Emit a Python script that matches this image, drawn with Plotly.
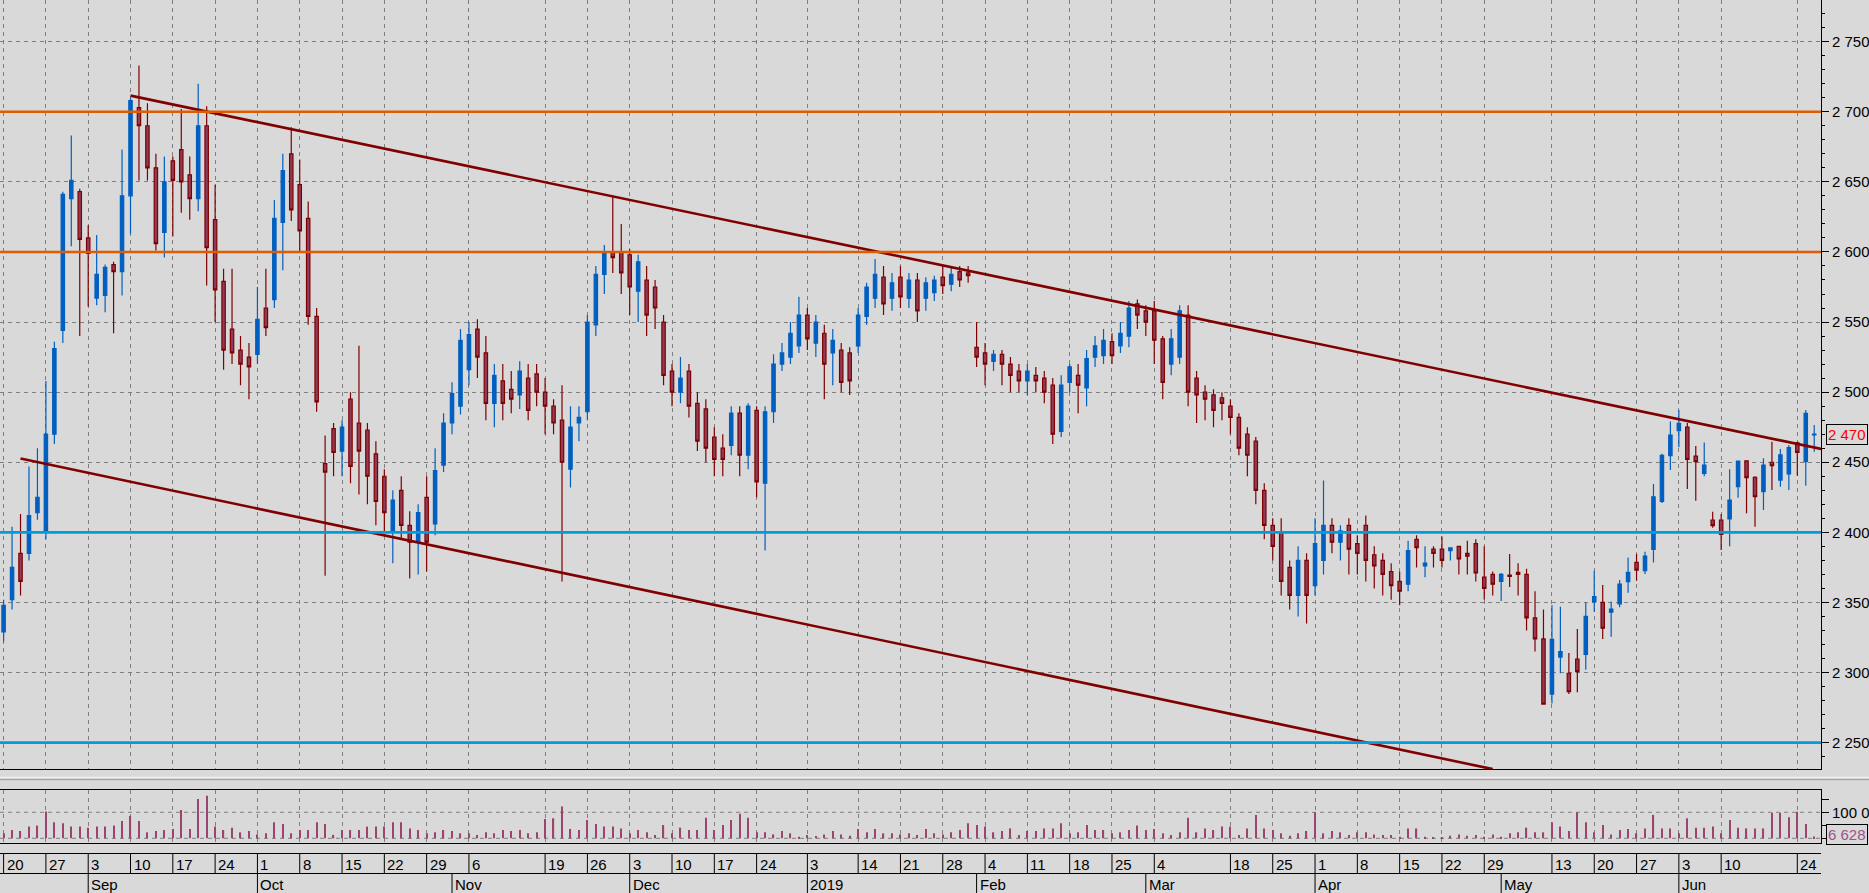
import plotly.graph_objects as go

# ---------------- DATA ----------------
opens = [2329,2352,2385,2385,2414,2401,2470,2544,2638,2643,2610,2567,2569,2591,2586,2640,2703,2690,2660,2614,
         2665,2673,2655,2638,2690,2623,2579,2545,2530,2525,2527,2560,2566,2621,2670,2648,2624,2554,2449,2474,
         2458,2495,2478,2473,2456,2440,2400,2430,2405,2393,2425,2406,2448,2478,2490,2516,2545,2528,2492,2508,
         2502,2498,2510,2513,2500,2490,2480,2445,2478,2486,2548,2584,2600,2600,2598,2572,2580,2575,2550,2515,
         2500,2515,2492,2488,2468,2460,2462,2485,2455,2487,2435,2486,2520,2525,2533,2555,2535,2542,2528,2530,
         2528,2533,2554,2567,2582,2567,2582,2567,2580,2567,2571,2582,2577,2586,2585,2532,2528,2522,2527,2520,
         2515,2508,2512,2510,2505,2472,2507,2512,2503,2525,2526,2536,2533,2540,2563,2558,2558,2538,2520,2525,
         2555,2510,2500,2498,2496,2490,2482,2470,2465,2430,2405,2400,2375,2355,2380,2362,2380,2405,2393,2405,
         2392,2405,2384,2380,2372,2365,2363,2395,2376,2388,2388,2387,2390,2385,2392,2368,2370,2365,2369.5,2371.5,
         2370,2339,2324,2284.5,2311,2299.5,2309.5,2313,2350.6,2350,2343,2349,2364.8,2378.6,2372.6,2387.9,2422,2454.7,2472.5,2475,
         2454.4,2442,2408.8,2408.8,2409.5,2432.6,2451,2439.3,2429,2450,2437.3,2441.6,2463.9,2450.4,2469.5]
highs = [2352,2404,2413,2447,2460,2508,2536,2643,2683,2645,2619,2612,2591,2593,2673,2710,2733,2706,2670,2668,
         2668,2702,2668,2720,2704,2648,2588,2588,2540,2535,2575,2588,2637,2670,2689,2666,2636,2560,2469,2478,
         2480,2500,2533,2478,2465,2445,2430,2440,2415,2420,2440,2460,2485,2507,2545,2550,2552,2540,2520,2520,
         2515,2522,2520,2520,2510,2495,2505,2490,2490,2555,2590,2605,2640,2620,2602,2598,2590,2580,2555,2520,
         2525,2520,2500,2495,2475,2470,2490,2490,2492,2490,2490,2527,2535,2550,2568,2560,2555,2548,2545,2535,
         2532,2560,2578,2595,2590,2585,2590,2585,2585,2582,2583,2590,2590,2590,2590,2550,2535,2530,2530,2525,
         2520,2520,2518,2515,2510,2512,2520,2520,2530,2540,2545,2542,2550,2565,2566,2562,2565,2540,2545,2562,
         2562,2515,2505,2502,2500,2495,2485,2475,2468,2435,2410,2410,2380,2390,2385,2410,2437,2410,2405,2410,
         2398,2412,2390,2385,2378,2372,2394,2398,2390,2390,2397,2389,2390,2394,2395,2390,2372,2371,2384.5,2378,
         2374,2358,2345,2348,2347,2314,2331,2350,2372.6,2362.5,2350.6,2366,2382,2384.5,2386.2,2434.5,2456,2479,2487.3,2478,
         2461.6,2464,2414.7,2413,2445,2451,2451,2440,2452.8,2464.7,2459.4,2462.3,2464.6,2487.3,2476.6]
lows = [2322,2345,2355,2380,2409,2395,2463,2535,2604,2540,2561,2562,2557,2542,2569,2613,2651,2651,2601,2596,
        2611,2628,2623,2629,2576,2550,2516,2520,2505,2495,2520,2540,2560,2587,2622,2600,2548,2486,2369,2440,
        2440,2435,2427,2420,2405,2400,2378,2395,2367,2370,2372,2398,2443,2470,2484,2505,2510,2480,2475,2480,
        2485,2488,2480,2490,2470,2470,2365,2432,2465,2480,2540,2570,2585,2570,2555,2550,2540,2545,2505,2490,
        2492,2482,2458,2450,2440,2440,2455,2440,2445,2425,2387,2478,2515,2520,2528,2530,2525,2495,2505,2500,
        2498,2528,2548,2560,2555,2558,2560,2560,2550,2558,2565,2570,2572,2575,2578,2518,2505,2515,2505,2500,
        2500,2498,2500,2492,2463,2468,2500,2485,2490,2518,2520,2520,2528,2532,2545,2540,2520,2495,2512,2520,
        2490,2478,2480,2475,2480,2470,2455,2440,2420,2395,2380,2355,2345,2340,2335,2355,2370,2385,2380,2370,
        2370,2365,2360,2355,2352,2348,2358,2375,2368,2375,2375,2380,2370,2370,2365,2352,2355,2351,2361,2355,
        2330,2315,2277,2278,2299.5,2284.7,2286,2302,2343.4,2324,2325.6,2346.5,2357,2365.5,2370.3,2378.4,2421,2444.5,2460.7,2431,
        2422.6,2440,2403.3,2387.4,2390,2424.7,2413.6,2404,2415.9,2430.2,2432.6,2430.2,2440.4,2433.3,2457.5]
closes = [2348,2375,2365,2412,2425,2470,2531,2641,2651,2609,2599,2584,2589,2586,2640,2708,2690,2660,2606,2650,
          2651,2650,2638,2690,2603,2573,2530,2528,2520,2518,2552,2546,2624,2658,2630,2615,2554,2493,2443,2457,
          2475,2447,2458,2440,2422,2414,2423,2405,2393,2414,2393,2444,2478,2499,2537,2541,2525,2492,2512,2492,
          2495,2515,2487,2500,2490,2478,2450,2475,2482,2550,2584,2600,2596,2585,2575,2593,2555,2560,2512,2500,
          2510,2490,2465,2460,2452,2452,2485,2455,2490,2436,2486,2520,2528,2542,2555,2538,2550,2520,2537,2507,
          2508,2555,2575,2584,2563,2578,2568,2580,2558,2578,2580,2576,2584,2580,2583,2525,2520,2527,2520,2512,
          2508,2515,2508,2500,2470,2505,2518,2505,2524,2533,2537,2526,2542,2560,2555,2550,2537,2507,2538,2558,
          2500,2498,2495,2487,2492,2482,2460,2455,2430,2405,2390,2365,2355,2380,2355,2392,2405,2393,2401,2388,
          2385,2380,2376,2370,2362,2358,2387,2389,2378,2385,2380,2389,2381,2383,2371,2360,2363,2370,2368.5,2370,
          2339,2324,2277.5,2323.7,2315,2286.3,2300.6,2340,2354.1,2331.6,2345.3,2363,2371.5,2373.1,2383.1,2425.4,2455,2469.4,2477.8,2452,
          2450.4,2448,2404.8,2398.6,2423,2450.9,2439,2425.4,2448,2447.5,2455.2,2460.4,2457,2484.9,2470]
volume_k = [19,32,28,45,49,103,62,58,45,45,41,45,45,49,67,86,67,23,28,32,
            36,109,36,151,164,45,32,41,23,28,15,19,62,55,19,32,32,62,55,13,
            32,32,32,45,45,45,62,62,38,32,19,23,32,28,19,19,13,23,19,32,
            28,32,19,23,74,77,122,36,32,70,55,45,45,38,19,32,23,13,51,19,
            41,32,32,79,32,51,70,94,79,23,23,15,28,19,6,13,9,15,28,15,
            10,36,23,36,19,19,15,19,13,36,19,15,23,32,58,51,45,23,28,38,
            13,28,28,38,38,58,19,23,51,32,32,19,23,32,49,32,36,19,13,23,
            79,23,38,32,45,45,13,38,90,38,32,19,10,19,28,100,19,28,23,13,
            23,23,15,13,13,6,38,38,6,3,3,10,15,10,13,6,15,6,19,23,
            41,23,23,62,45,28,100,62,23,51,15,32,36,19,38,90,38,38,19,77,
            41,41,45,19,70,41,38,38,38,98,98,81,102,55,6.628]

# tick labels (trading-day index -> label)
day_tick_idx = [0,5,10,15,20,25,30,35,40,45,50,55,64,69,74,79,84,89,95,101,106,111,116,121,126,131,
                136,145,150,155,160,165,170,175,183,188,193,198,203,212]
day_tick_text = ['20','27','3','10','17','24','1','8','15','22','29','6','19','26','3','10','17','24',
                 '3','14','21','28','4','11','18','25','4','18','25','1','8','15','22','29','13','20',
                 '27','3','10','24']
month_idx = [10,30,53,74,95,115,135,155,177,198]
month_text = ['Sep','Oct','Nov','Dec','2019','Feb','Mar','Apr','May','Jun']

# volume axis ticks (label is shown truncated at the window edge, as in the original)
vol_tickvals = [0, 50000, 100000, 150000]
vol_ticktext = ['', '', '100 0', '']

# drawn levels / trend lines
level_orange = [2700, 2600]
level_blue = [2400, 2250]
trend_upper_x = [15, 214.8]
trend_upper_y = [2711.5, 2459.5]
trend_lower_x = [2, 176]
trend_lower_y = [2452.6, 2231.1]
last_price = 2470
last_volume = 6628

# ---------------- STYLE ----------------
BG = '#d9d9d9'
GRID = '#7f7f7f'
UP = '#005fc0'
DOWN_LINE = '#7f0000'
DOWN_FILL = '#8f3c5a'
TREND = '#800000'
ORANGE = '#e05c00'
CYAN = '#009ddb'
VOLC = '#9c4470'
FONT = 'Liberation Sans'

W, H = 1869, 893
R = 48
PW = W - R

def py(px):
    return 1 - px / H

idx = list(range(len(opens)))
vol = [v * 1000 for v in volume_k]

fig = go.Figure()
fig.add_trace(go.Candlestick(
    x=idx, open=opens, high=highs, low=lows, close=closes,
    increasing=dict(line=dict(color=UP, width=1.2), fillcolor=UP),
    decreasing=dict(line=dict(color=DOWN_LINE, width=1.2), fillcolor=DOWN_FILL),
    whiskerwidth=0, xaxis='x', yaxis='y', hoverinfo='skip', showlegend=False))
fig.add_trace(go.Scatter(x=trend_upper_x, y=trend_upper_y, mode='lines',
                         line=dict(color=TREND, width=2.6), xaxis='x', yaxis='y',
                         hoverinfo='skip', showlegend=False))
fig.add_trace(go.Scatter(x=trend_lower_x, y=trend_lower_y, mode='lines',
                         line=dict(color=TREND, width=2.6), xaxis='x', yaxis='y',
                         hoverinfo='skip', showlegend=False))
fig.add_trace(go.Bar(x=idx, y=vol, width=0.14, marker=dict(color=VOLC, line=dict(width=0)),
                     xaxis='x2', yaxis='y2', hoverinfo='skip', showlegend=False))

shapes = []
for lv in level_orange:
    shapes.append(dict(type='line', xref='paper', x0=0, x1=1, yref='y', y0=lv, y1=lv,
                       line=dict(color=ORANGE, width=2.6), layer='above'))
for lv in level_blue:
    shapes.append(dict(type='line', xref='paper', x0=0, x1=1, yref='y', y0=lv, y1=lv,
                       line=dict(color=CYAN, width=2.6), layer='above'))
# volume grid lines
for v in [0, 100000]:
    shapes.append(dict(type='line', xref='paper', x0=0, x1=1, yref='y2', y0=v, y1=v,
                       line=dict(color=GRID, width=1, dash='4px,4px'), layer='below'))
# splitter between panels
shapes.append(dict(type='line', xref='paper', x0=0, x1=W / PW, yref='paper', y0=py(777.5), y1=py(777.5),
                   line=dict(color='#f4f4f4', width=1.5)))
shapes.append(dict(type='line', xref='paper', x0=0, x1=W / PW, yref='paper', y0=py(779.5), y1=py(779.5),
                   line=dict(color='#a8a8a8', width=1.5)))
# date box lines
for yy in [853.5, 873.5]:
    shapes.append(dict(type='line', xref='paper', x0=0, x1=1, yref='paper', y0=py(yy), y1=py(yy),
                       line=dict(color='black', width=1)))
for t in day_tick_idx:
    shapes.append(dict(type='line', xref='x', x0=t, x1=t, yref='paper', y0=py(873.5), y1=py(853.5),
                       line=dict(color='black', width=1)))
for t in month_idx:
    shapes.append(dict(type='line', xref='x', x0=t, x1=t, yref='paper', y0=py(893), y1=py(873.5),
                       line=dict(color='black', width=1)))

annotations = []
for t, s in zip(day_tick_idx, day_tick_text):
    annotations.append(dict(x=t, xref='x', y=py(864), yref='paper', text=s, showarrow=False,
                            xanchor='left', yanchor='middle', xshift=1,
                            font=dict(family=FONT, size=15, color='black')))
for t, s in zip(month_idx, month_text):
    annotations.append(dict(x=t, xref='x', y=py(884), yref='paper', text=s, showarrow=False,
                            xanchor='left', yanchor='middle', xshift=1,
                            font=dict(family=FONT, size=15, color='black')))
annotations.append(dict(x=1, xref='paper', xanchor='left', xshift=5, y=last_price, yref='y',
                        yanchor='middle', text='2 470', showarrow=False,
                        font=dict(family=FONT, size=15, color='#ff0000'),
                        bordercolor='black', borderwidth=1, borderpad=1, bgcolor=BG))
annotations.append(dict(x=1, xref='paper', xanchor='left', xshift=5, y=last_volume, yref='y2',
                        yanchor='middle', yshift=2, text='6 628', showarrow=False,
                        font=dict(family=FONT, size=15, color='#a0508a'),
                        bordercolor='black', borderwidth=1, borderpad=1, bgcolor=BG))

xcommon = dict(range=[-0.4255, 214.8], tickvals=day_tick_idx, showticklabels=False, ticks='',
               showgrid=True, gridcolor=GRID, griddash='4px,4px', gridwidth=1,
               showline=True, mirror=True, linecolor='black', linewidth=1, zeroline=False,
               fixedrange=True, automargin=False)

fig.update_layout(
    width=W, height=H,
    margin=dict(l=0, r=R, t=0, b=0, pad=0, autoexpand=False),
    paper_bgcolor=BG, plot_bgcolor=BG,
    separators='. ',
    font=dict(family=FONT, size=15, color='black'),
    showlegend=False,
    boxgap=0.43,
    xaxis=dict(domain=[0, 1], anchor='y', rangeslider=dict(visible=False), **xcommon),
    xaxis2=dict(domain=[0, 1], anchor='y2', matches='x', **xcommon),
    yaxis=dict(domain=[py(769), 1], anchor='x', side='right', range=[2231.2, 2779.7],
               tick0=2250, dtick=50, ticks='outside', ticklen=7, tickcolor='black',
               separatethousands=True, showgrid=True, gridcolor=GRID, griddash='4px,4px',
               gridwidth=1, showline=True, mirror=True, linecolor='black', linewidth=1,
               zeroline=False, fixedrange=True, automargin=False,
               minor=dict(dtick=10, tick0=2250, ticks='outside', ticklen=3, tickcolor='black',
                          showgrid=False)),
    yaxis2=dict(domain=[py(843), py(790)], anchor='x2', side='right', range=[-18100, 185800],
                tickvals=vol_tickvals, ticktext=vol_ticktext,
                ticks='outside', ticklen=7, tickcolor='black', showgrid=False,
                showline=True, mirror=True, linecolor='black', linewidth=1, zeroline=False,
                fixedrange=True, automargin=False),
    shapes=shapes,
    annotations=annotations,
)

fig.write_html("out.html", config=dict(displayModeBar=False),
               post_script="document.body.style.margin='0';document.body.style.overflow='hidden';")
